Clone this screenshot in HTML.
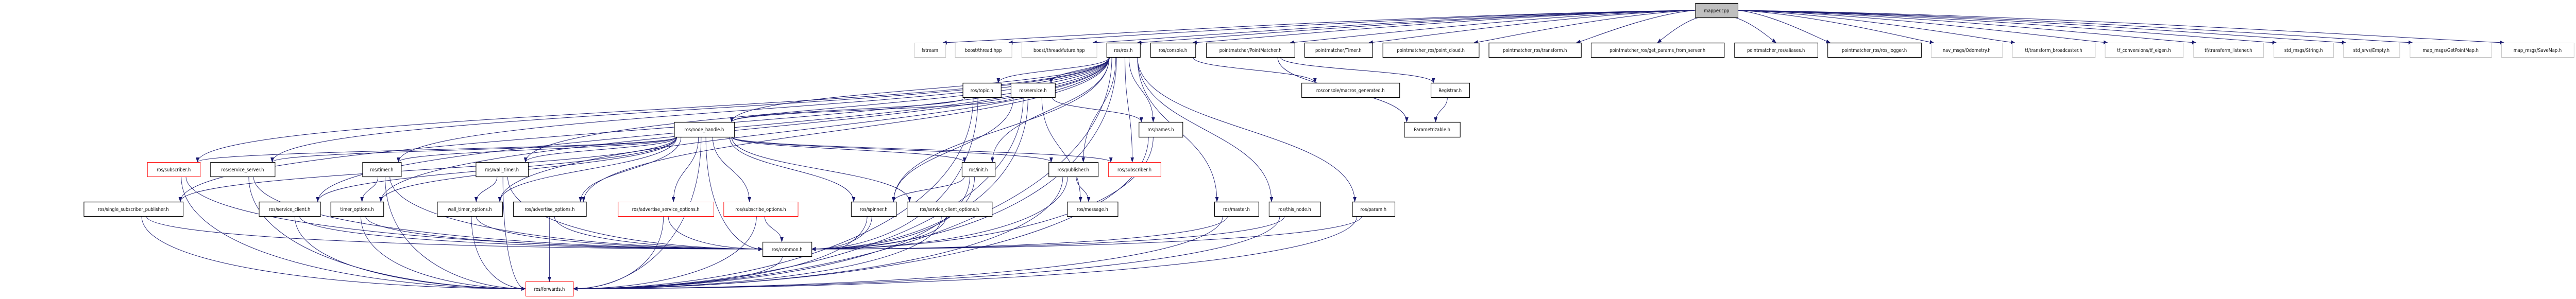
<!DOCTYPE html>
<html><head><meta charset="utf-8">
<meta name="viewport" content="width=5999">
<style>
html,body{margin:0;padding:0;background:#fff;width:100%;height:100%;overflow:hidden;}
svg{display:block;width:100vw;height:100vh;}
text{font-family:"DejaVu Sans","Liberation Sans",sans-serif;font-size:10px;fill:#000;}
</style></head>
<body>
<svg id="g" viewBox="0 0 5999 581" preserveAspectRatio="none" xmlns="http://www.w3.org/2000/svg">
<defs>
<marker id="ah" markerWidth="10" markerHeight="8" refX="9" refY="4" orient="auto" markerUnits="userSpaceOnUse">
<path d="M0,0 L10,4 L0,8 Z" fill="#191970"/>
</marker>
</defs>
<g id="edges" fill="none" stroke="#191970" stroke-width="1"></g>
<g id="nodes"></g>
</svg>
<script>
var R=[[6,34],[83,111],[161,189],[237,266],[315,343],[392,420],[470,498],[547,575]];
var N={
mapper:[3948,4047,0,"mapper.cpp","m"],
fstream:[2129,2202,1,"fstream","g"],
bth:[2224,2356,1,"boost/thread.hpp","g"],
bfut:[2379,2554,1,"boost/thread/future.hpp","g"],
ros:[2577,2655,1,"ros/ros.h","b"],
console:[2679,2784,1,"ros/console.h","b"],
pm:[2809,3015,1,"pointmatcher/PointMatcher.h","b"],
pmt:[3038,3196,1,"pointmatcher/Timer.h","b"],
pc:[3220,3444,1,"pointmatcher_ros/point_cloud.h","b"],
tr:[3467,3682,1,"pointmatcher_ros/transform.h","b"],
gp:[3705,4015,1,"pointmatcher_ros/get_params_from_server.h","b"],
al:[4039,4233,1,"pointmatcher_ros/aliases.h","b"],
rl:[4256,4474,1,"pointmatcher_ros/ros_logger.h","b"],
od:[4497,4663,1,"nav_msgs/Odometry.h","g"],
tb:[4686,4879,1,"tf/transform_broadcaster.h","g"],
te:[4902,5084,1,"tf_conversions/tf_eigen.h","g"],
tl:[5108,5271,1,"tf/transform_listener.h","g"],
ss:[5295,5434,1,"std_msgs/String.h","g"],
se:[5457,5588,1,"std_srvs/Empty.h","g"],
gpm:[5612,5802,1,"map_msgs/GetPointMap.h","g"],
sm:[5825,5994,1,"map_msgs/SaveMap.h","g"],
topic:[2242,2331,2,"ros/topic.h","b"],
service:[2354,2457,2,"ros/service.h","b"],
macros:[3031,3259,2,"rosconsole/macros_generated.h","b"],
reg:[3332,3422,2,"Registrar.h","b"],
nh:[1570,1710,3,"ros/node_handle.h","b"],
names:[2652,2754,3,"ros/names.h","b"],
param_:[3270,3400,3,"Parametrizable.h","b"],
sub1:[343,466,4,"ros/subscriber.h","r"],
ssrv:[490,640,4,"ros/service_server.h","b"],
timer:[844,934,4,"ros/timer.h","b"],
wt:[1108,1230,4,"ros/wall_timer.h","b"],
init:[2240,2317,4,"ros/init.h","b"],
pub:[2442,2557,4,"ros/publisher.h","b"],
sub2:[2581,2703,4,"ros/subscriber.h","r"],
ssp:[195,426,5,"ros/single_subscriber_publisher.h","b"],
sc:[603,746,5,"ros/service_client.h","b"],
to:[770,893,5,"timer_options.h","b"],
wto:[1018,1170,5,"wall_timer_options.h","b"],
ao:[1195,1365,5,"ros/advertise_options.h","b"],
aso:[1439,1662,5,"ros/advertise_service_options.h","r"],
so:[1685,1858,5,"ros/subscribe_options.h","r"],
spin:[1982,2087,5,"ros/spinner.h","b"],
sco:[2112,2310,5,"ros/service_client_options.h","b"],
msg:[2485,2603,5,"ros/message.h","b"],
master:[2828,2931,5,"ros/master.h","b"],
tn:[2955,3075,5,"ros/this_node.h","b"],
param:[3149,3248,5,"ros/param.h","b"],
common:[1776,1890,6,"ros/common.h","b"],
fwd:[1224,1335,7,"ros/forwards.h","r"]
};
var E=[];
["fstream","bth","bfut","ros","console","pm","pmt","pc","tr","gp","al","rl","od","tb","te","tl","ss","se","gpm","sm"].forEach(function(t){E.push(["mapper",t]);});
["topic","service","nh","init","pub","sub2","names","master","tn","param","common","fwd","spin","timer","wt","ssrv","sub1","ssp","sc","to","wto","ao"].forEach(function(t){E.push(["ros",t]);});
E.push(["console","macros"],["pm","reg"],["pm","param_"],["reg","param_"]);
E.push(["topic","nh"],["topic","common"],["topic","fwd"],["service","nh"],["service","names"],["service","msg"],["service","common"],["service","fwd"],["service","spin"]);
["sub1","ssrv","timer","wt","sc","to","wto","ao","aso","so","common","fwd","pub","sub2","init","spin","sco","ssp"].forEach(function(t){E.push(["nh",t]);});
E.push(["timer","to"],["timer","common"],["timer","fwd"],["wt","wto"],["wt","common"],["wt","fwd"]);
["sub1","ssrv","ssp","sc","to","wto","ao","aso","so","init","pub","names","master","tn","param","spin","sco"].forEach(function(s){E.push([s,"common"]);E.push([s,"fwd"]);});
E.push(["init","spin"],["pub","msg"],["common","fwd"]);
var ns="http://www.w3.org/2000/svg",eg=document.getElementById("edges"),ng=document.getElementById("nodes");
function cx(n){return (n[0]+n[1])/2;}
E.forEach(function(e){
 var a=N[e[0]],b=N[e[1]],sy=R[a[2]][1],d,sx,ex,ey;
 var acx=cx(a),bcx=cx(b);
 if(e[0]=="mapper"){
   sy=20; sx= bcx<acx? a[0]:a[1];
   if(Math.abs(bcx-acx)<250){sx=acx+(bcx-acx)*0.3;sy=34;}
   ex= bcx<acx? Math.min(b[1]-6,Math.max(b[0]+10,bcx+(b[1]-b[0])*0.45)) : b[0]+6; ey=R[1][0];
   if(Math.abs(bcx-acx)<250){ex=bcx;}
   d="M"+sx+","+sy+" C"+(sx+(ex-sx)*0.4)+","+(sy+8)+" "+(ex+(sx-ex)*0.1)+","+(ey-6)+" "+ex+","+ey;
 } else if((e[1]=="common"||e[1]=="fwd") && Math.abs(bcx-acx)>(b[1]-b[0])*0.8){
   sx=Math.max(a[0]+4,Math.min(a[1]-4,acx+(bcx-acx)*0.02));
   var ymid=(R[b[2]][0]+R[b[2]][1])/2;
   ex= acx>bcx? b[1]+1 : b[0]-1; ey=ymid;
   d="M"+sx+","+sy+" C"+sx+","+(sy+(ey-sy)*0.7)+" "+(ex+(sx-ex)*0.45)+","+ey+" "+ex+","+ey;
 } else {
   sx=Math.max(a[0]+6,Math.min(a[1]-6,acx+(bcx-acx)*0.15));
   ex=Math.max(b[0]+6,Math.min(b[1]-6,bcx+(acx-bcx)*0.2)); ey=R[b[2]][0];
   var dy=ey-sy;
   d="M"+sx+","+sy+" C"+sx+","+(sy+dy*0.5)+" "+ex+","+(ey-dy*0.5)+" "+ex+","+ey;
 }
 var p=document.createElementNS(ns,"path");p.setAttribute("d",d);p.setAttribute("marker-end","url(#ah)");eg.appendChild(p);
});
for(var k in N){var n=N[k],y=R[n[2]];
 var r=document.createElementNS(ns,"rect");
 r.setAttribute("x",n[0]+0.5);r.setAttribute("y",y[0]+0.5);r.setAttribute("width",n[1]-n[0]);r.setAttribute("height",y[1]-y[0]);
 var st=n[4];
 r.setAttribute("fill",st=="m"?"#bfbfbf":"#fff");
 r.setAttribute("stroke",st=="g"?"#bfbfbf":st=="r"?"#ff0000":"#000");
 r.setAttribute("stroke-width",st=="r"||st=="g"?"1":"1.3");
 ng.appendChild(r);
 var t=document.createElementNS(ns,"text");t.setAttribute("x",cx(n));t.setAttribute("y",y[0]+18);t.setAttribute("text-anchor","middle");t.textContent=n[3];ng.appendChild(t);
}
</script>
</body></html>
